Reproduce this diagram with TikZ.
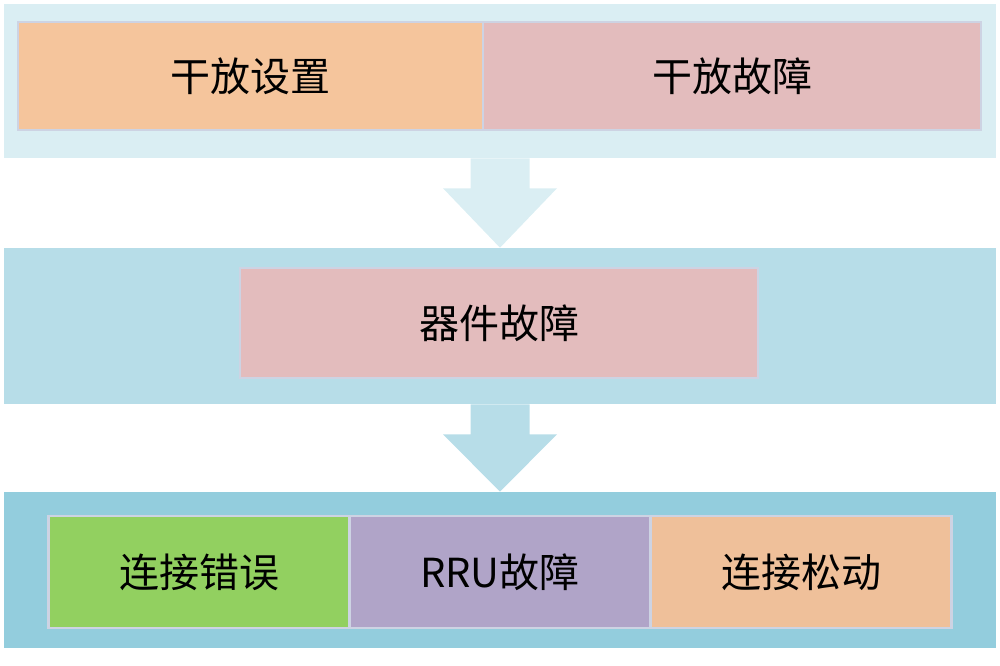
\documentclass[tikz,border=0pt]{standalone}
\usepackage{fontspec}
\setmainfont{Noto Sans CJK SC}
\usetikzlibrary{calc}
\definecolor{bandA}{HTML}{DAEEF3}
\definecolor{bandB}{HTML}{B7DDE8}
\definecolor{bandC}{HTML}{93CDDD}
\definecolor{rimcol}{HTML}{CDD3E3}
\definecolor{peach}{HTML}{F5C59C}
\definecolor{rose}{HTML}{E3BCBD}
\definecolor{leaf}{HTML}{92D060}
\definecolor{lilac}{HTML}{B0A4C8}
\definecolor{sand}{HTML}{EFC09A}

\begin{document}
\begin{tikzpicture}[x=0.75pt,y=-0.75pt]
    \tikzstyle{band}=[rectangle,inner sep=0pt,minimum width=744pt]
    \tikzstyle{cell}=[rectangle,draw=rimcol,line width=2.2pt,inner sep=0pt,font=\fontsize{30}{36}\selectfont]
    \tikzstyle{top cell}=[cell,minimum height=81pt]
    \tikzstyle{low cell}=[cell,minimum height=84pt,minimum width=225.75pt]
    \useasboundingbox (0,0) rectangle (1000,666);
    % Draw the three bands
      \node[band,fill=bandA,minimum height=115.5pt] (B1) at (500,81) {};
      \node[band,fill=bandB,minimum height=117pt] (B2) at (500,326) {};
      \node[band,fill=bandC,minimum height=117pt] (B3) at (500,570) {};
    % Block arrows between the bands
      \fill[bandA] ($(B1.south)+(-29.5,0)$) -- ($(B1.south)+(-29.5,30)$) -- ($(B1.south)+(-57,30)$)
          -- (B2.north) -- ($(B1.south)+(57,30)$) -- ($(B1.south)+(29.5,30)$) -- ($(B1.south)+(29.5,0)$) -- cycle;
      \fill[bandB] ($(B2.south)+(-29.5,0)$) -- ($(B2.south)+(-29.5,30)$) -- ($(B2.south)+(-57,30)$)
          -- (B3.north) -- ($(B2.south)+(57,30)$) -- ($(B2.south)+(29.5,30)$) -- ($(B2.south)+(29.5,0)$) -- cycle;
    % Cells
      \node[top cell,fill=peach,minimum width=348.75pt] (SET) at (250.5,76) {干放设置};
      \node[top cell,fill=rose,minimum width=373.5pt] (FLT) at (732,76) {干放故障};
      \node[cell,fill=rose,minimum width=388.5pt,minimum height=82.5pt] (DEV) at (499,323) {器件故障};
      \node[low cell,fill=leaf] (ERR) at (199,572) {连接错误};
      \node[low cell,fill=lilac] (RRU) at (500,572) {RRU故障};
      \node[low cell,fill=sand] (LSE) at (801,572) {连接松动};
\end{tikzpicture}
\end{document}
